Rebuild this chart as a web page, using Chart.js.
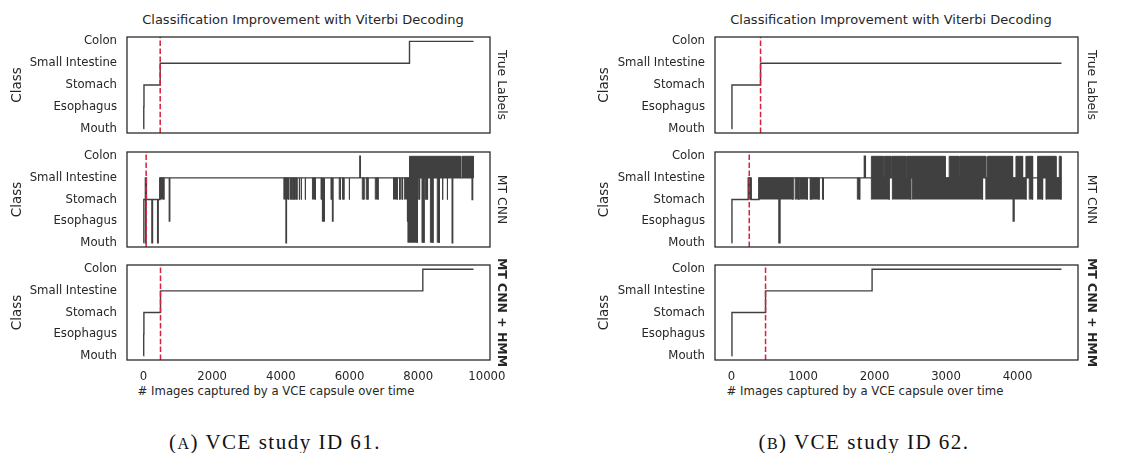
<!DOCTYPE html>
<html>
<head>
<meta charset="utf-8">
<script src="https://cdn.jsdelivr.net/npm/chart.js"></script>
<style>
  body { margin: 0; background: #fff; }
  #fig { position: relative; width: 1146px; height: 453px; overflow: hidden; background: #fff;
         font-family: 'DejaVu Sans', sans-serif; color: #262626; }
  canvas { position: absolute; }
  .lbl { position: absolute; white-space: nowrap; transform: translateX(-50%); line-height: 1; }
  .title { font-size: 13px; top: 12.5px; }
  .xlab { font-size: 11.7px; top: 386px; }
  .cap { font-family: 'Liberation Serif', serif; font-size: 21px; color: #111; top: 432px; letter-spacing: 1.5px; }
  .sc { font-size: 16px; }
</style>
</head>
<body>
<div id="fig">
  <div class="lbl title" style="left:303px">Classification Improvement with Viterbi Decoding</div>
  <div class="lbl title" style="left:891px">Classification Improvement with Viterbi Decoding</div>
  <div class="lbl xlab" style="left:276px"># Images captured by a VCE capsule over time</div>
  <div class="lbl xlab" style="left:865px"># Images captured by a VCE capsule over time</div>
  <div class="lbl cap" style="left:275px">(<span class="sc">A</span>) VCE study ID 61.</div>
  <div class="lbl cap" style="left:864px">(<span class="sc">B</span>) VCE study ID 62.</div>
</div>
<script>
// class order on the y axis (0 = bottom)
const classNames = ['Mouth', 'Esophagus', 'Stomach', 'Small Intestine', 'Colon'];
const rowLabels = ['True Labels', 'MT CNN', 'MT CNN + HMM'];

const xTicks61 = [0, 2000, 4000, 6000, 8000, 10000];
const xTicks62 = [0, 1000, 2000, 3000, 4000];

// ---- study 61 ----
// step traces: frame index where the class changes, and the new class
const trueX61 = [0, 8, 14, 486, 7746, 9610];
const trueY61 = [0, 1, 2, 3, 4, 4];
const cnnX61 = [0, 10, 55, 62, 75, 85, 245, 262, 412, 428, 476, 752, 764, 4150, 4162,
                5215, 5228, 5252, 5265, 5505, 5518, 6300, 6314, 7690, 7702, 8990, 9004, 9570, 9584, 9610];
const cnnY61 = [0, 2, 3, 0, 3, 2, 0, 2, 0, 2, 3, 1, 3, 0, 3,
                1, 3, 1, 3, 1, 3, 4, 3, 1, 3, 0, 3, 2, 3, 3];
// stretches where the CNN flickers between two classes: [from, to, lowClass, highClass]
const cnnFlicker61 = [
  [476, 593, 2, 3], [4087, 4225, 2, 3], [4268, 4322, 2, 3], [4348, 4392, 2, 3], [4415, 4468, 2, 3],
  [4530, 4545, 2, 3], [4588, 4600, 2, 3], [4705, 4718, 2, 3], [4920, 5003, 2, 3], [5170, 5200, 2, 3],
  [5460, 5480, 2, 3], [5700, 5735, 2, 3], [5795, 5835, 2, 3], [5988, 6000, 2, 3], [6372, 6420, 2, 3],
  [6488, 6537, 2, 3], [6750, 6830, 2, 3], [7280, 7390, 2, 3], [7455, 7470, 2, 3], [7525, 7540, 2, 3],
  [7595, 7700, 2, 3], [7700, 7975, 0, 3], [7746, 9235, 3, 4], [9275, 9610, 3, 4], [8000, 8040, 2, 3],
  [8110, 8170, 0, 3], [8205, 8235, 2, 3], [8262, 8278, 2, 3], [8355, 8430, 0, 3], [8555, 8615, 0, 3],
  [8700, 8720, 2, 3], [8840, 8856, 2, 3]
];
const hmmX61 = [0, 6, 12, 495, 8134, 9610];
const hmmY61 = [0, 1, 2, 3, 4, 4];
// red dashed marker per row (true, cnn, hmm)
const marker61 = [486, 77, 495];

// ---- study 62 ----
const trueX62 = [0, 6, 406, 4615];
const trueY62 = [0, 2, 3, 3];
const cnnX62 = [0, 6, 235, 272, 383, 663, 678, 1858, 1872, 3940, 3952, 4615];
const cnnY62 = [0, 2, 3, 2, 3, 0, 3, 4, 3, 1, 3, 3];
const cnnFlicker62 = [
  [235, 272, 2, 3], [383, 860, 2, 3], [890, 940, 2, 3], [948, 1060, 2, 3], [1100, 1112, 2, 3],
  [1120, 1225, 2, 3], [1272, 1285, 2, 3], [1760, 1793, 2, 3],
  [1956, 2120, 3, 4], [2134, 2230, 3, 4], [2242, 2440, 3, 4], [2452, 2988, 3, 4], [3044, 3178, 3, 4],
  [3190, 3557, 3, 4], [3581, 3931, 3, 4], [3978, 4071, 3, 4], [4118, 4211, 3, 4], [4281, 4538, 3, 4],
  [4584, 4608, 3, 4],
  [1956, 2204, 2, 3], [2250, 2507, 2, 3], [2530, 3511, 2, 3], [3557, 4118, 2, 3], [4164, 4211, 2, 3],
  [4281, 4351, 2, 3], [4398, 4608, 2, 3]
];
const hmmX62 = [0, 6, 476, 1966, 4615];
const hmmY62 = [0, 2, 3, 4, 4];
const marker62 = [406, 248, 476];

const Y_MIN = -0.2, Y_MAX = 4.2;
const INK = '#404040';
const RED = '#d8203f';

Chart.defaults.font.family = "'DejaVu Sans', sans-serif";
Chart.defaults.color = '#262626';

const framePlugin = {
  id: 'frame',
  afterDatasetsDraw(chart) {
    const a = chart.chartArea, ctx = chart.ctx;
    ctx.save();
    ctx.strokeStyle = '#2b2b2b';
    ctx.lineWidth = 1.3;
    ctx.strokeRect(a.left, a.top, a.right - a.left, a.bottom - a.top);
    ctx.restore();
  }
};

const ROW_TOP = [37, 152, 265];
const ROW_BOTTOM = [133, 247, 360];
const fig = document.getElementById('fig');

function addSubplot(panel, row, xs, ys, flicker, marker) {
  const last = row === 2;
  const padT = 6, padB = last ? 1 : 6, xH = last ? 30 : 0;
  const cv = document.createElement('canvas');
  cv.width = 573;
  cv.height = padT + (ROW_BOTTOM[row] - ROW_TOP[row]) + xH + padB;
  cv.style.left = panel.left + 'px';
  cv.style.top = (ROW_TOP[row] - padT) + 'px';
  fig.appendChild(cv);

  const datasets = [{
    data: [{x: marker, y: Y_MIN}, {x: marker, y: Y_MAX}],
    borderColor: RED, borderWidth: 1.5, borderDash: [5.5, 2.4], pointRadius: 0, order: 0
  }, {
    data: xs.map((x, i) => ({x: x, y: ys[i]})),
    stepped: 'before', borderColor: INK, borderWidth: 1.4, pointRadius: 0, order: 1
  }];
  flicker.forEach(f => datasets.push({
    data: [{x: f[0], y: f[2]}, {x: f[0], y: f[3]}, {x: f[1], y: f[3]}, {x: f[1], y: f[2]}],
    fill: {value: f[2]}, backgroundColor: INK, borderColor: INK, borderWidth: 1,
    pointRadius: 0, order: 2
  }));

  new Chart(cv, {
    type: 'line',
    data: {datasets: datasets},
    options: {
      responsive: false,
      animation: false,
      events: [],
      layout: {padding: {left: 0, right: panel.rightPad, top: padT, bottom: padB}},
      plugins: {legend: {display: false}, tooltip: {enabled: false}},
      scales: {
        x: {
          type: 'linear', min: panel.xMin, max: panel.xMax, display: last,
          grid: {display: false, drawTicks: false}, border: {display: false},
          ticks: {padding: 10, font: {size: 11.7}, maxRotation: 0, autoSkip: false, callback: v => String(v)},
          afterBuildTicks: s => { s.ticks = panel.xTicks.map(v => ({value: v})); },
          afterFit: s => { s.height = xH; s.paddingLeft = 0; s.paddingRight = 0; }
        },
        y: {
          type: 'linear', min: Y_MIN, max: Y_MAX, position: 'left',
          grid: {display: false, drawTicks: false}, border: {display: false},
          ticks: {padding: 10, font: {size: 11.7}, autoSkip: false, callback: v => classNames[Math.round(v)]},
          title: {display: true, text: 'Class', font: {size: 13.5}, padding: {top: panel.classPad, bottom: 0}},
          afterBuildTicks: s => { s.ticks = classNames.map((c, i) => ({value: i})); },
          afterFit: s => { s.width = panel.yW; s.paddingTop = 0; s.paddingBottom = 0; }
        },
        y2: {
          type: 'linear', min: Y_MIN, max: Y_MAX, position: 'right', display: true,
          grid: {display: false, drawTicks: false}, border: {display: false},
          ticks: {display: false},
          title: {display: true, text: rowLabels[row],
                  font: {size: 12.4, weight: last ? 'bold' : 'normal'}, padding: {top: 0, bottom: 0}},
          afterFit: s => { s.width = panel.rightW; s.paddingTop = 0; s.paddingBottom = 0; }
        }
      }
    },
    plugins: [framePlugin]
  });
}

const panel61 = {left: 0, xMin: -480.5, xMax: 10090.5, xTicks: xTicks61,
                 yW: 127, classPad: 8.9, rightW: 19.1, rightPad: 63.9};
const panel62 = {left: 573, xMin: -231, xMax: 4846, xTicks: xTicks62,
                 yW: 142, classPad: 23.6, rightW: 20.4, rightPad: 47.6};

addSubplot(panel61, 0, trueX61, trueY61, [], marker61[0]);
addSubplot(panel61, 1, cnnX61, cnnY61, cnnFlicker61, marker61[1]);
addSubplot(panel61, 2, hmmX61, hmmY61, [], marker61[2]);
addSubplot(panel62, 0, trueX62, trueY62, [], marker62[0]);
addSubplot(panel62, 1, cnnX62, cnnY62, cnnFlicker62, marker62[1]);
addSubplot(panel62, 2, hmmX62, hmmY62, [], marker62[2]);
</script>
</body>
</html>
